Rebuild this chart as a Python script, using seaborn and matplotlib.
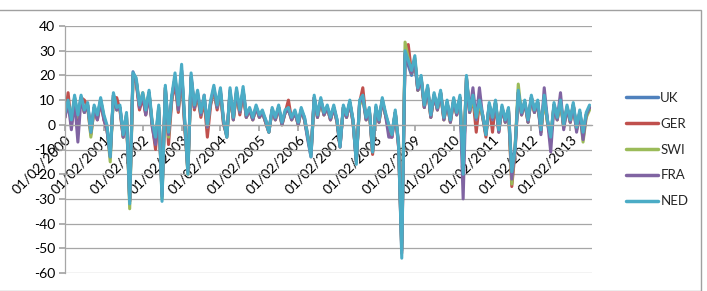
import numpy as np
import pandas as pd
import matplotlib
matplotlib.use("Agg")
import matplotlib.pyplot as plt
from matplotlib.patches import Rectangle
import seaborn as sns

# Monthly observations, Feb 2000 .. Aug 2013
dates = pd.date_range("2000-02-01", "2013-08-01", freq="MS")

series_names = ["UK", "GER", "SWI", "FRA", "NED"]

uk = [4, 9, 1, 11, 3, 11, 5, 8, -2, 7, 3,
      10, 3, -1, -12, 12, 6, 7, -3, 4, -30, 21.5, 18,
      7, 12, 5, 13, 0, -6, 7, -28, 15, -2, 11, 19,
      7, 22, 2, -18, 19, 7, 12, 5, 11, 1, 9, 14,
      7, 13, 2, -4, 13, 3, 13, 5, 14, 4, 6, 3,
      7, 4, 5, 2, -2, 6, 3, 7, 1, 5, 6, 3,
      5, 1, 6, 3, -4, -11, 11, 4, 10, 5, 7, 3,
      7, 2, -8, 7, 4, 9, 2, -14, 9, 11, 3, 6,
      -10, 7, 2, 10, 4, 0, -3, 5, -7, -48, 28, 24,
      20, 25, 14, 18, 8, 14, 4, 12, 7, 13, 3, 9,
      2, 10, 5, 11, -18, 18, 6, 11, 3, 9, 4, -3,
      8, 3, 9, -2, 7, 2, 6, -18, -9, 13, 5, 9,
      2, 11, 6, 9, -2, 11, 2, -5, 8, 3, 9, 0,
      7, 2, 8, -1, 5, -3, 4, 7]

ger = [3, 13, 0, 10, 2, 11, 10, 7, -4, 6, 2,
       9, 2, -2, -12, 11, 11, 6, -5, 3, -31, 20, 17,
       6, 11, 4, 12, 0, -10, 5, -28, 14, -8, 10, 17,
       5, 20, 0, -19, 19, 6, 12, 3, 10, -5, 8, 14,
       6, 13, 0, -4, 13, 2, 13, 4, 13, 3, 6, 2,
       7, 3, 5, 1, -3, 6, 2, 7, 0, 5, 10, 2,
       5, 0, 6, 2, -5, -12, 11, 3, 10, 4, 7, 2,
       7, 1, -9, 7, 3, 9, 1, -15, 9, 15, 2, 6,
       -12, 7, 1, 10, 4, -2, -5, 5, -9, -52, 28, 32.5,
       21, 26, 14, 19, 7, 15, 3, 12, 6, 13, 2, 9,
       1, 10, 4, 11, -19, 19, 5, 11, -3, 9, 3, -5,
       8, -3, 9, -3, 7, 1, 6, -25, -11, 13, 4, 9,
       1, 11, 5, 9, -3, 11, 1, -6, 8, 2, 9, -1,
       7, 1, 8, -2, 5, -4, 4, 7]

swi = [4, 9, 1, 11, 3, 10, 5, 8, -5, 7, 3,
       10, 3, -1, -15, 12, 6, 7, -5, 4, -34, 19, 18,
       8, 13, 6, 13, 0, -7, 7, -30, 15, -5, 11, 19,
       6, 21, 1, -20, 19, 7, 12, 4, 11, -1, 9, 14,
       7, 13, 1, -5, 13, 2, 13, 5, 14, 3, 6, 2,
       7, 3, 5, 1, -3, 6, 2, 7, 0, 5, 6, 2,
       5, 0, 6, 2, -5, -12, 10, 3, 9, 4, 7, 2,
       7, 1, -8, 7, 3, 9, 1, -14, 8, 11, 2, 6,
       -11, 7, 1, 10, 4, -1, -4, 5, -8, -50, 33.5, 27,
       21, 27, 14, 19, 7, 15, 3, 12, 6, 13, 2, 9,
       1, 10, 4, 11, -18, 19, 5, 11, 2, 9, 3, -4,
       8, 2, 9, -2, 7, 1, 6, -24, -9, 16.5, 4, 9,
       1, 11, 5, 9, -3, 11, 1, -5, 8, 2, 9, -1,
       7, 1, 8, -2, 5, -7, 3, 6]

fra = [3, 9, -2, 10, -7, 11, 5, 8, -3, 7, 2,
       10, 2, -2, -13, 12, 6, 7, -5, 3, -31, 20, 18,
       7, 12, 4, 13, -1, -8, 6, -29, 15, -4, 11, 19,
       6, 22, 1, -19, 20, 7, 13, 4, 12, -1, 9, 15,
       7, 14, 1, -5, 14, 2, 14, 5, 14, 3, 6, 2,
       7, 3, 5, 1, -3, 6, 2, 7, 0, 5, 6, 2,
       5, 0, 6, 2, -6, -13, 11, 3, 10, 4, 7, 2,
       7, 1, -9, 7, 3, 9, 1, -15, 9, 11, 2, 6,
       -11, 7, 1, 10, 4, -5, -5, 5, -9, -51, 29, 25,
       21, 26, 14, 19, 7, 15, 3, 12, 6, 13, 2, 9,
       1, 10, 4, 11, -30, 19, 5, 15, 2, 15, 3, -4,
       8, 2, 9, -3, 7, 1, 6, -22, -10, 13, 4, 9,
       1, 11, 5, 9, -4, 15, 2, -11, 8, 2, 13, -2,
       7, 1, 8, -3, 5, -6, 4, 7]

ned = [5, 10, 2, 12, 4, 12, 6, 9, -3, 8, 4,
       11, 4, 0, -13, 13, 7, 8, -4, 5, -32, 21, 19,
       8, 13, 6, 14, 1, -5, 8, -31, 16, -3, 12, 21,
       8, 24.5, 3, -20, 21, 8, 14, 5, 12, 0, 10, 16,
       8, 15, 2, -5, 15, 3, 15, 6, 15.5, 4, 7, 3,
       8, 4, 6, 2, -3, 7, 3, 8, 1, 6, 7, 3,
       6, 1, 7, 3, -5, -13, 12, 4, 11, 5, 8, 3,
       8, 2, -9, 8, 4, 10, 2, -16, 10, 12, 3, 7,
       -11, 8, 2, 11, 5, 0, -4, 6, -8, -54, 30, 26,
       22, 28, 15, 20, 8, 16, 4, 13, 7, 14, 3, 10,
       2, 11, 5, 12, -20, 20, 6, 12, 3, 10, 4, -4,
       9, 3, 10, -2, 8, 2, 7, -19, -10, 14, 5, 10,
       2, 12, 6, 10, -2, 12, 2, -5, 9, 3, 10, 0,
       8, 2, 9, -1, 6, -3, 5, 8]

tick_years = list(range(2000, 2014))
tick_labels = ["01/02/%d" % y for y in tick_years]
y_ticks = list(range(-60, 41, 10))

colors = ["#4F81BD", "#C0504D", "#9BBB59", "#8064A2", "#4BACC6"]

frames = []
for name, vals in zip(series_names, [uk, ger, swi, fra, ned]):
    frames.append(pd.DataFrame({"Date": dates, "Value": vals, "Series": name}))
df = pd.concat(frames, ignore_index=True)

sns.set_theme(style="white")
plt.rcParams["font.family"] = ["Lato", "DejaVu Sans"]

W, H = 707, 291
fig = plt.figure(figsize=(W / 100, H / 100), dpi=100)
ax = fig.add_axes([65 / W, 1 - 273 / H, 527 / W, 247 / H])

sns.lineplot(data=df, x="Date", y="Value", hue="Series", hue_order=series_names,
             palette=colors, linewidth=2.2, ax=ax, legend=True)

handles, labels = ax.get_legend_handles_labels()
ax.get_legend().remove()

grid_c = "#A6A6A6"
for s in ["top", "right"]:
    ax.spines[s].set_visible(False)
ax.spines["bottom"].set_position(("data", 0))
ax.spines["bottom"].set_color(grid_c)
ax.spines["left"].set_color(grid_c)
ax.spines["bottom"].set_linewidth(0.9)
ax.spines["left"].set_linewidth(0.9)
ax.set_facecolor("white")

ax.set_ylim(-60, 40)
ax.set_xlim(dates[0], pd.Timestamp("2013-08-24"))
ax.set_yticks(y_ticks)
ax.set_yticklabels([str(v) for v in y_ticks])
ax.set_xticks([pd.Timestamp("%d-02-01" % y) for y in tick_years])
ax.set_xticklabels(tick_labels)
ax.set_xlabel("")
ax.set_ylabel("")

ax.yaxis.grid(True, color=grid_c, linewidth=0.9)
ax.xaxis.grid(False)
ax.set_axisbelow(True)

ax.tick_params(axis="x", length=4, direction="out", color=grid_c, pad=2,
               labelsize=10, labelcolor="black", bottom=True, labelrotation=45)
ax.tick_params(axis="y", length=4, direction="out", color=grid_c, pad=3,
               labelsize=10, labelcolor="black", left=True)
for t in ax.get_xticklabels():
    t.set_ha("right")
    t.set_va("top")
    t.set_rotation_mode("anchor")

fig.legend(handles, labels, loc="center left",
           bbox_to_anchor=(626 / W, 1 - 149.5 / H), frameon=False,
           fontsize=9.5, handlelength=2.4, handletextpad=0.2,
           labelspacing=1.05, borderpad=0, borderaxespad=0)
for lh in fig.legends[0].get_lines():
    lh.set_linewidth(2.5)

fig.patches.append(Rectangle((-0.01, 0.5 / H), (701.5 / W) + 0.01, (290 - 9.3) / H,
                             transform=fig.transFigure, fill=False,
                             edgecolor="#A0A0A0", linewidth=1.0))

fig.savefig("out.png", dpi=100, facecolor="white")
